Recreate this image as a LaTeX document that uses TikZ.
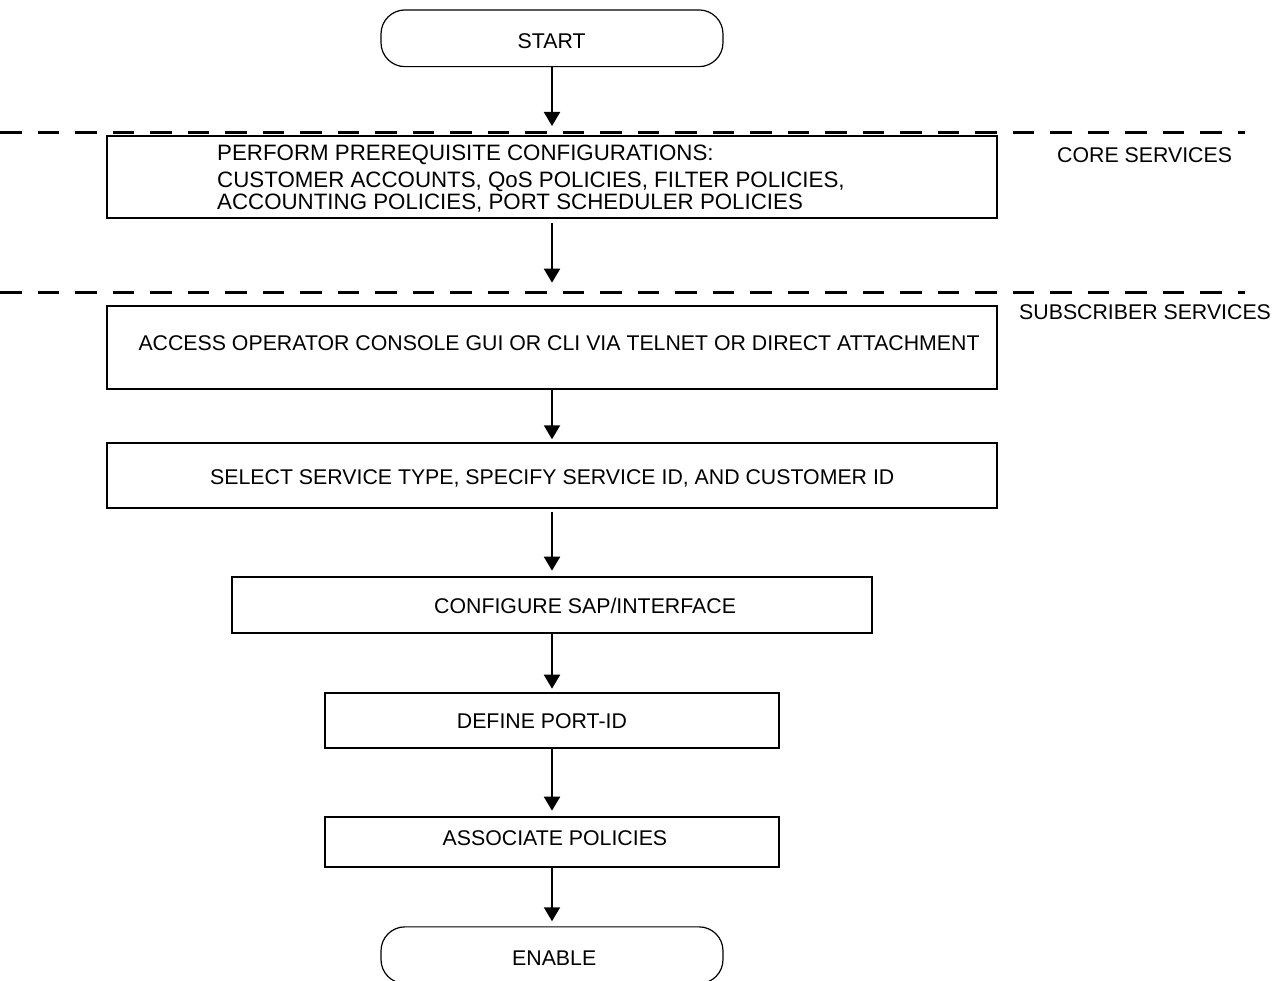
\documentclass[tikz,border=0pt]{standalone}
\usepackage{fontspec}
\setmainfont{Liberation Sans}
\usetikzlibrary{arrows.meta}

\tikzset{
  box/.style={draw, line width=2pt, rectangle, inner sep=0pt},
  terminal/.style={draw, line width=1.2pt, rectangle, rounded corners=24pt, inner sep=0pt,
                   minimum width=342pt, minimum height=56.7pt},
  label/.style={inner sep=0pt, anchor=base west, font=\fontsize{21.3}{25}\selectfont},
  flow/.style={line width=2pt, -{Triangle[length=14pt,width=16pt]}},
  divider/.style={line width=3pt, dash pattern=on 21.7pt off 15.8pt}
}

\begin{document}
\begin{tikzpicture}[x=1pt, y=-1pt]
\useasboundingbox (0,0) rectangle (1275,981);

% section dividers
\draw[divider] (0,132.5) -- (1245,132.5);
\draw[divider] (0,292.5) -- (1245,292.5);

% shapes
\node[terminal] (start) at (552,38.3) {};
\node[box, minimum width=890.3pt, minimum height=82pt]   (prereq)  at (552,177)   {};
\node[box, minimum width=890.3pt, minimum height=83pt]   (access)  at (552,347.2) {};
\node[box, minimum width=890.3pt, minimum height=64.4pt] (select)  at (552,475.5) {};
\node[box, minimum width=640.3pt, minimum height=56pt]   (sap)     at (552,604.7) {};
\node[box, minimum width=454.3pt, minimum height=55.6pt] (portid)  at (552,720.5) {};
\node[box, minimum width=454.3pt, minimum height=50pt]   (assoc)   at (552,841.7) {};
\node[terminal] (enable) at (552,955.2) {};

% texts
\node[label] (tstart) at (517.5,48.3) {START};
\node[label, font=\fontsize{22.3}{22}\selectfont] (tprereq) at (217,161) {\begin{tabular}[t]{@{}l@{}}
  PERFORM PREREQUISITE CONFIGURATIONS:\\[4.5pt]
  CUSTOMER ACCOUNTS, QoS POLICIES, FILTER POLICIES,\\[-0.5pt]
  ACCOUNTING POLICIES, PORT SCHEDULER POLICIES
\end{tabular}};
\node[label] (tcore) at (1057,162.7) {CORE SERVICES};
\node[label] (tsubs) at (1019,320) {SUBSCRIBER SERVICES};
\node[label] (taccess) at (138.3,351) {ACCESS OPERATOR CONSOLE GUI OR CLI VIA TELNET OR DIRECT ATTACHMENT};
\node[label] (tselect) at (210,485) {SELECT SERVICE TYPE, SPECIFY SERVICE ID, AND CUSTOMER ID};
\node[label] (tsap) at (434,613.3) {CONFIGURE SAP/INTERFACE};
\node[label] (tportid) at (456.7,728.3) {DEFINE PORT-ID};
\node[label] (tassoc) at (442.5,845) {ASSOCIATE POLICIES};
\node[label] (tenable) at (512,965) {ENABLE};

% arrow tips that stop at the dividers
\coordinate (tip1) at (552,126);
\coordinate (tip2) at (552,282.7);

% connectors
\draw[flow] (start.south) -- (tip1);
\draw[flow, shorten <=4pt] (prereq.south) -- (tip2);
\draw[flow, shorten >=3pt] (access.south) -- (select.north);
\draw[flow, shorten <=3pt, shorten >=5pt] (select.south) -- (sap.north);
\draw[flow, shorten >=3pt] (sap.south) -- (portid.north);
\draw[flow, shorten >=5pt] (portid.south) -- (assoc.north);
\draw[flow, shorten >=5pt] (assoc.south) -- (enable.north);
\end{tikzpicture}
\end{document}
